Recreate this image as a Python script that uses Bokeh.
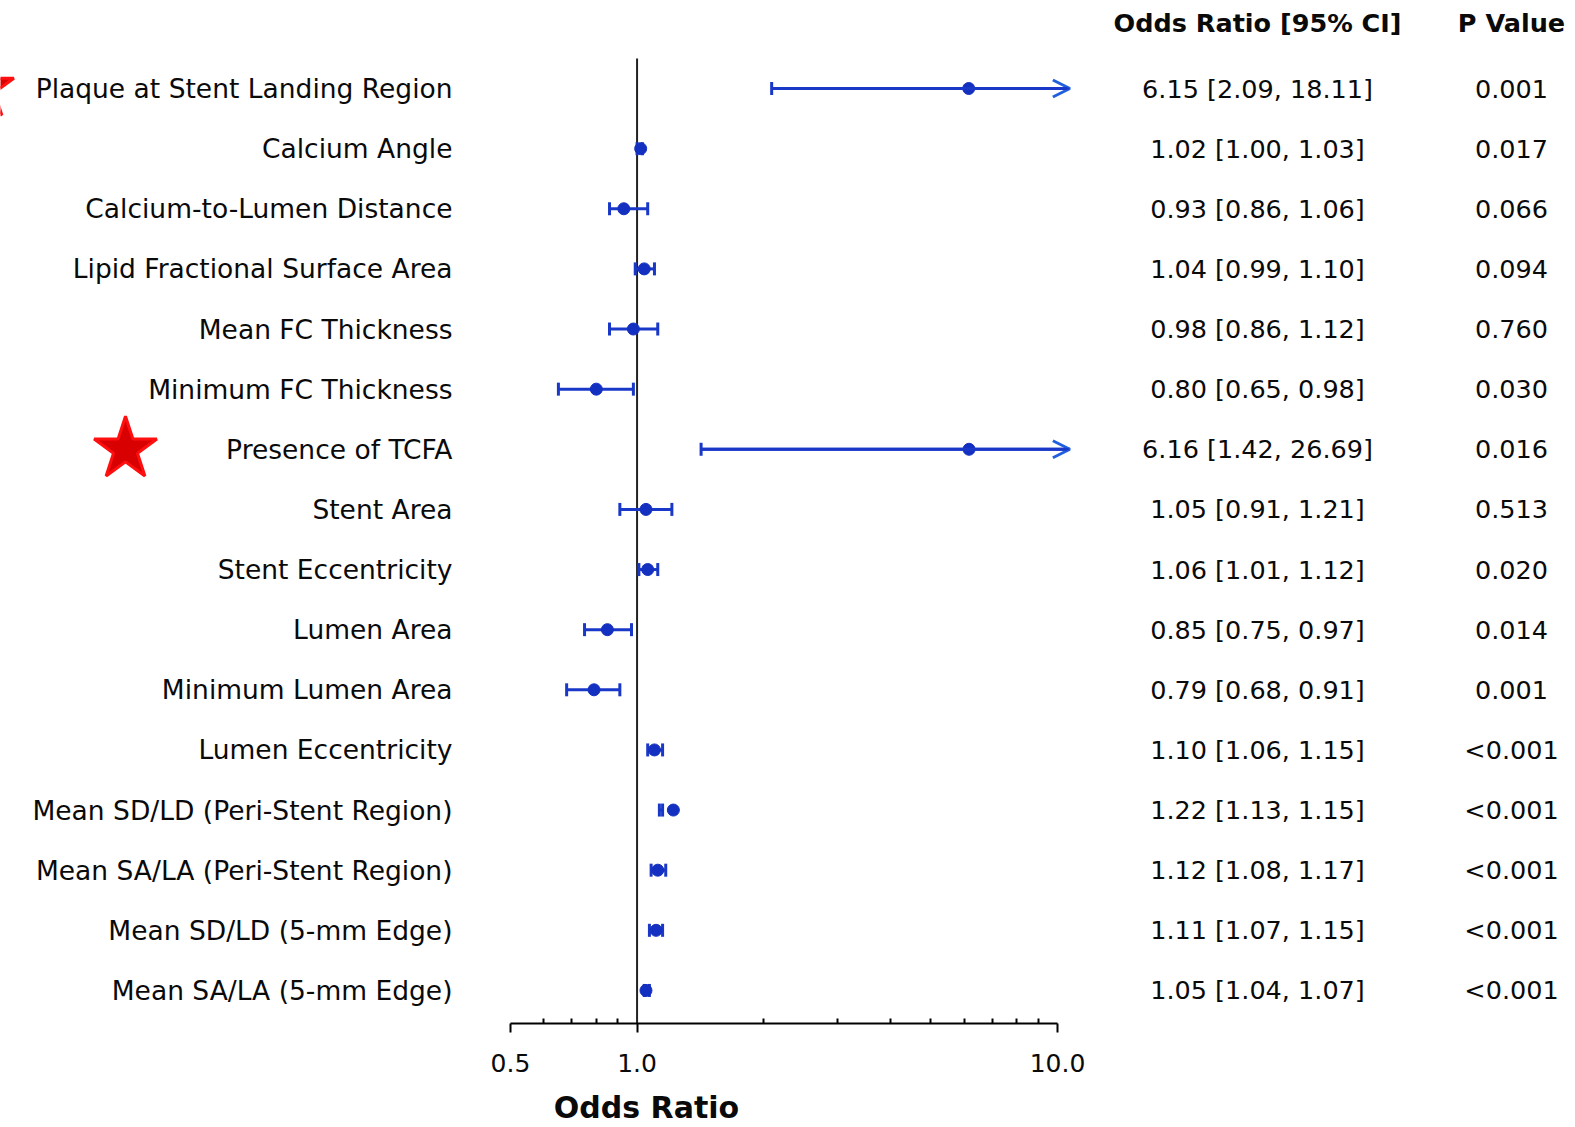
import numpy as np
from bokeh.plotting import figure
from bokeh.models import (Range1d, LinearScale, FixedTicker, PrintfTickFormatter,
                          Arrow, OpenHead, ColumnDataSource)
from bokeh.core.properties import value
from bokeh.embed import file_html
from bokeh.resources import INLINE

# ---------------- data ----------------
labels = [
    "Plaque at Stent Landing Region",
    "Calcium Angle",
    "Calcium-to-Lumen Distance",
    "Lipid Fractional Surface Area",
    "Mean FC Thickness",
    "Minimum FC Thickness",
    "Presence of TCFA",
    "Stent Area",
    "Stent Eccentricity",
    "Lumen Area",
    "Minimum Lumen Area",
    "Lumen Eccentricity",
    "Mean SD/LD (Peri-Stent Region)",
    "Mean SA/LA (Peri-Stent Region)",
    "Mean SD/LD (5-mm Edge)",
    "Mean SA/LA (5-mm Edge)",
]
odds = [6.15, 1.02, 0.93, 1.04, 0.98, 0.80, 6.16, 1.05, 1.06, 0.85, 0.79, 1.10, 1.22, 1.12, 1.11, 1.05]
ci_low = [2.09, 1.00, 0.86, 0.99, 0.86, 0.65, 1.42, 0.91, 1.01, 0.75, 0.68, 1.06, 1.13, 1.08, 1.07, 1.04]
ci_high = [18.11, 1.03, 1.06, 1.10, 1.12, 0.98, 26.69, 1.21, 1.12, 0.97, 0.91, 1.15, 1.15, 1.17, 1.15, 1.07]
p_values = ["0.001", "0.017", "0.066", "0.094", "0.760", "0.030", "0.016", "0.513",
            "0.020", "0.014", "0.001", "<0.001", "<0.001", "<0.001", "<0.001", "<0.001"]
starred = ["Plaque at Stent Landing Region", "Presence of TCFA"]
major_ticks = [0.5, 1.0, 10.0]
minor_ticks = [0.6, 0.7, 0.8, 0.9, 2, 3, 4, 5, 6, 7, 8, 9]
axis_min, axis_max = 0.5, 10.0
arrow_clip = 10.7
reference_or = 1.0

# ---------------- layout constants (pixels) ----------------
W, H = 1575, 1127
PX_AT_MIN, PX_AT_MAX = 510, 1057       # screen x of 0.5 and 10
ROW0_PX, ROW_STEP = 88, 60.13          # first row centre / spacing
AXIS_PX = 1023
LABEL_RIGHT_PX = 452
OR_COL_PX = 1257
P_COL_PX = 1511
HEADER_PX = 22
AXIS_TITLE_PX = 1107
AXIS_TITLE_X_PX = 646
STAR_X_PX = [-18, 125]

LINE_C = "#1a38c8"
DOT_C = "#1430c0"
TXT_C = "#0a0a0a"
FONT = value("DejaVu Sans")

dec_px = (PX_AT_MAX - PX_AT_MIN) / np.log10(axis_max / axis_min)
x_lo = axis_min * 10 ** ((0 - PX_AT_MIN) / dec_px)
x_hi = axis_min * 10 ** ((W - PX_AT_MIN) / dec_px)
y_top = (0 - ROW0_PX) / ROW_STEP
y_bot = (H - ROW0_PX) / ROW_STEP
axis_row = (AXIS_PX - ROW0_PX) / ROW_STEP

rows = list(range(len(labels)))
hi_draw = [min(h, arrow_clip) for h in ci_high]
src = ColumnDataSource(dict(
    row=rows, label=labels, odds=odds, lo=ci_low, hi=ci_high, hi_draw=hi_draw,
    or_text=[f"{o:.2f} [{l:.2f}, {h:.2f}]" for o, l, h in zip(odds, ci_low, ci_high)],
    p=p_values,
))

p = figure(width=W, height=H, x_axis_type="log",
           x_range=Range1d(x_lo, x_hi), y_range=Range1d(y_bot, y_top),
           y_axis_location=None, toolbar_location=None, output_backend="svg",
           min_border=0, outline_line_color=None)
p.extra_x_ranges = {"px": Range1d(0, W)}
p.extra_x_scales = {"px": LinearScale()}
p.extra_y_ranges = {"py": Range1d(H, 0)}
p.xgrid.visible = False
p.ygrid.visible = False
p.background_fill_color = "white"
p.border_fill_color = "white"

# reference line at OR = 1
p.segment(x0=[reference_or], y0=[-0.5], x1=[reference_or], y1=[axis_row],
          line_color="#222222", line_width=2)

# CI lines
p.segment(x0="lo", y0="row", x1="hi_draw", y1="row", source=src,
          line_color=LINE_C, line_width=3)
# caps
p.scatter(x="lo", y="row", source=src, marker="dash", angle=np.pi / 2, size=13,
          line_color=LINE_C, line_width=3)
cap_hi = [i for i, h in enumerate(ci_high) if h <= arrow_clip]
p.scatter(x=[ci_high[i] for i in cap_hi], y=[rows[i] for i in cap_hi], marker="dash",
          angle=np.pi / 2, size=13, line_color=LINE_C, line_width=3)
# arrows for truncated CIs
arr_idx = [i for i, h in enumerate(ci_high) if h > arrow_clip]
arr_src = ColumnDataSource(dict(x0=[ci_low[i] for i in arr_idx], x1=[arrow_clip] * len(arr_idx),
                                y=[rows[i] for i in arr_idx]))
p.add_layout(Arrow(x_start="x0", y_start="y", x_end="x1", y_end="y", source=arr_src,
                   line_color=LINE_C, line_width=3,
                   end=OpenHead(size=17, line_color="#2060e0", line_width=3)))
# point estimates
p.scatter(x="odds", y="row", source=src, marker="circle", size=12,
          fill_color=DOT_C, line_color=DOT_C)

# stars
star_rows = [labels.index(s) for s in starred]
p.scatter(x=STAR_X_PX, y=star_rows, x_range_name="px", marker="star", size=66,
          fill_color="#d80000", line_color="#ff1010", line_width=3)

# row labels
p.text(x=LABEL_RIGHT_PX, y="row", text="label", source=src, x_range_name="px",
       text_align="right", text_baseline="middle", text_font=FONT,
       text_font_size="26.5px", text_color=TXT_C)
# OR column
p.text(x=OR_COL_PX, y="row", text="or_text", source=src, x_range_name="px",
       text_align="center", text_baseline="middle", text_font=FONT,
       text_font_size="25.5px", text_color=TXT_C)
# P column
p.text(x=P_COL_PX, y="row", text="p", source=src, x_range_name="px",
       text_align="center", text_baseline="middle", text_font=FONT,
       text_font_size="25.5px", text_color=TXT_C)
# headers
p.text(x=[OR_COL_PX, P_COL_PX], y=[HEADER_PX, HEADER_PX],
       text=["Odds Ratio [95% CI]", "P Value"], x_range_name="px", y_range_name="py",
       text_align="center", text_baseline="middle", text_font=FONT,
       text_font_size="25.5px", text_font_style="bold", text_color=TXT_C)
# axis title
p.text(x=[AXIS_TITLE_X_PX], y=[AXIS_TITLE_PX], text=["Odds Ratio"], x_range_name="px",
       y_range_name="py", text_align="center", text_baseline="middle", text_font=FONT,
       text_font_size="30px", text_font_style="bold", text_color=TXT_C)

# x axis
ax = p.xaxis[0]
ax.ticker = FixedTicker(ticks=major_ticks, minor_ticks=minor_ticks)
ax.formatter = PrintfTickFormatter(format="%.1f")
ax.bounds = (axis_min, axis_max)
ax.fixed_location = axis_row
ax.axis_line_width = 2
ax.axis_line_color = "black"
ax.major_tick_line_width = 2
ax.major_tick_line_color = "black"
ax.major_tick_out = 9
ax.major_tick_in = 0
ax.minor_tick_line_width = 2
ax.minor_tick_line_color = "black"
ax.minor_tick_in = 5
ax.minor_tick_out = 0
ax.major_label_standoff = 21
ax.major_label_text_font = "DejaVu Sans"
ax.major_label_text_font_size = "25px"
ax.major_label_text_color = TXT_C

open("out.html", "w").write(file_html(p, INLINE))
